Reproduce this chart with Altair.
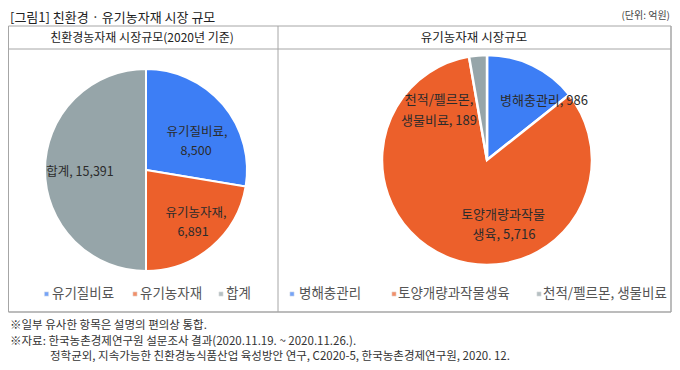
import altair as alt
import pandas as pd

# ---- data ----
left_cats = ["유기질비료", "유기농자재", "합계"]
left_vals = [8500, 6891, 15391]
right_cats = ["병해충관리", "토양개량과작물생육", "천적/펠르몬, 생물비료"]
right_vals = [986, 5716, 189]
colors = ["#3D7EF5", "#EC602B", "#96A5A9"]

title_text = "[그림1] 친환경 · 유기농자재 시장 규모"
unit_text = "(단위: 억원)"
left_header = "친환경농자재 시장규모(2020년 기준)"
right_header = "유기농자재 시장규모"
notes = [
    "※일부 유사한 항목은 설명의 편의상 통합.",
    "※자료: 한국농촌경제연구원 설문조사 결과(2020.11.19. ~ 2020.11.26.).",
    "정학균외, 지속가능한 친환경농식품산업 육성방안 연구, C2020-5, 한국농촌경제연구원, 2020. 12.",
]

FONT = "Noto Sans CJK KR"
W, H = 664, 354
one = pd.DataFrame({"a": [0]})
layers = []


def text_layer(txt, x, y, size, color="#333333", align="center", weight="normal", **kw):
    df = pd.DataFrame({"t": [txt]})
    return alt.Chart(df).mark_text(
        font=FONT, fontSize=size, color=color, align=align, baseline="middle",
        fontWeight=weight, **kw
    ).encode(text="t:N", x=alt.value(x), y=alt.value(y))


def rule(x1, y1, x2, y2, color="#A6A6A6", w=1.0):
    return alt.Chart(one).mark_rule(color=color, strokeWidth=w).encode(
        x=alt.value(x1), x2=alt.value(x2), y=alt.value(y1), y2=alt.value(y2)
    )


# ---- frame ----
TOP, HDR, BOT, LEFT, RIGHT, MID = 18, 41, 304, 0.5, 663, 270
layers += [
    rule(LEFT, TOP, RIGHT, TOP),
    rule(LEFT, HDR, RIGHT, HDR),
    rule(LEFT, BOT, RIGHT, BOT, w=1.5),
    rule(LEFT, TOP, LEFT, BOT),
    rule(RIGHT, TOP, RIGHT, BOT, w=1.5),
    rule(MID, TOP, MID, BOT),
]

# ---- titles ----
layers += [
    text_layer(title_text, 2, 9.5, 13, color="#222222", align="left"),
    text_layer(unit_text, 662, 8, 10, color="#444444", align="right"),
    text_layer(left_header, 134, 29.5, 12, color="#222222"),
    text_layer(right_header, 466, 29.5, 12.5, color="#222222"),
]


# ---- pies ----
def pie(cats, vals, cx, cy, r, sw, key):
    df = pd.DataFrame({key: cats, "v" + key: vals, "o": list(range(len(cats)))})
    return alt.Chart(df).mark_arc(outerRadius=r, stroke="white", strokeWidth=sw).encode(
        theta=alt.Theta("v" + key + ":Q", stack=True),
        order=alt.Order("o:Q"),
        color=alt.Color(key + ":N", scale=alt.Scale(domain=cats, range=colors), legend=None),
        x=alt.value(cx),
        y=alt.value(cy),
    )


layers.append(pie(left_cats, left_vals, 138, 162, 101, 2, "lc"))
layers.append(pie(right_cats, right_vals, 479, 152, 105, 2.5, "rc"))

# ---- pie labels ----
def fmt(v):
    return f"{v:,}"

lc, lv = left_cats, left_vals
rc, rv = right_cats, right_vals
label_lines = [
    (f"{lc[0]},", 189, 124), (fmt(lv[0]), 188, 143),
    (f"{lc[1]},", 188, 205), (fmt(lv[1]), 185, 224),
    (f"{lc[2]}, {fmt(lv[2])}", 72, 164),
    (f"{rc[0]}, {fmt(rv[0])}", 536, 93),
    (rc[2].split(" ")[0], 431, 92), (f"{rc[2].split(' ')[1]}, {fmt(rv[2])}", 431, 113),
    (rc[1][:7], 495, 207), (f"{rc[1][7:]}, {fmt(rv[1])}", 496, 227),
]
for i, (t, x, y) in enumerate(label_lines):
    size = 12.5 if i < 5 else 13
    layers.append(text_layer(t, x, y, size, color="#2b2b2b"))

# ---- legends ----
LY = 286
leg_left = [(38.5, 44), (127, 132), (213, 218)]
leg_right = [(284, 291), (386, 390), (531, 535)]
for cats, pos in ((left_cats, leg_left), (right_cats, leg_right)):
    for i, (mx, tx) in enumerate(pos):
        layers.append(
            alt.Chart(one).mark_square(size=18, filled=True, color=colors[i], stroke="#dddddd", strokeWidth=0.5)
            .encode(x=alt.value(mx), y=alt.value(LY))
        )
        extra = {}
        if cats is right_cats and i == 2:
            extra = {"limit": 126, "ellipsis": ""}
        layers.append(text_layer(cats[i], tx, LY, 13.5, color="#555555", align="left", **extra))

# ---- notes ----
layers += [
    text_layer(notes[0], 2, 318, 11.5, color="#333333", align="left"),
    text_layer(notes[1], 2, 334, 11.5, color="#333333", align="left"),
    text_layer(notes[2], 42, 349, 11.5, color="#333333", align="left"),
]

chart = (
    alt.layer(*layers)
    .resolve_scale(theta="independent", color="independent")
    .properties(width=W, height=H, padding=0, autosize="none", background="white")
    .configure_view(stroke=None)
)

chart.save("out.html", embed_options={"renderer": "svg", "actions": False})
